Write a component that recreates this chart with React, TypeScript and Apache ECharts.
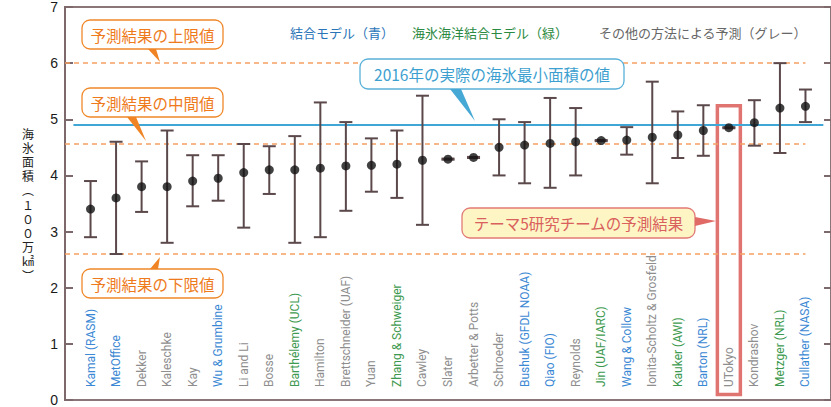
import React, { useEffect, useRef } from "react";
import * as echarts from "echarts";

const names = [
  "Kamal (RASM)", "MetOffice", "Dekker", "Kaleschke", "Kay", "Wu & Grumbine", "Li and Li", "Bosse",
  "Barthélemy (UCL)", "Hamilton", "Brettschneider (UAF)", "Yuan", "Zhang & Schweiger", "Cawley",
  "Slater", "Arbetter & Potts", "Schroeder", "Bushuk (GFDL NOAA)", "Qiao (FIO)", "Reynolds",
  "Jin (UAF/IARC)", "Wang & Collow", "Ionita-Scholtz & Grosfeld", "Kauker (AWI)", "Barton (NRL)",
  "UTokyo", "Kondrashov", "Metzger (NRL)", "Cullather (NASA)",
];
// B = 結合モデル, G = 海氷海洋結合モデル, O = その他
const groups = ["B","B","O","O","O","B","O","O","G","O","O","O","G","O","O","O","O","B","B","O","G","B","O","G","B","O","O","G","B"];
const values = [3.4, 3.6, 3.8, 3.8, 3.9, 3.95, 4.05, 4.1, 4.1, 4.13, 4.17, 4.18, 4.2, 4.27, 4.29, 4.32, 4.5, 4.54, 4.57, 4.6, 4.62, 4.63, 4.68, 4.72, 4.8, 4.85, 4.94, 5.2, 5.23];
const lows = [2.9, 2.6, 3.35, 2.8, 3.45, 3.55, 3.07, 3.67, 2.8, 2.9, 3.37, 3.71, 3.6, 3.12, 4.28, 4.31, 4.0, 3.86, 3.78, 4.0, 4.61, 4.37, 3.86, 4.31, 4.35, 4.84, 4.53, 4.4, 4.95];
const highs = [3.9, 4.6, 4.25, 4.8, 4.36, 4.36, 4.56, 4.52, 4.7, 5.3, 4.95, 4.66, 4.8, 5.42, 4.3, 4.33, 5.0, 4.95, 5.38, 5.2, 4.63, 4.86, 5.67, 5.14, 5.25, 4.86, 5.34, 6.0, 5.53];
const yTicks = [0, 1, 2, 3, 4, 5, 6, 7];
const yAxisTitleChars = ["海", "氷", "面", "積", "︵", "１", "０", "０", "万", "㎢", "︶"];
const upperLimit = 6.0;
const medianValue = 4.57;
const lowerLimit = 2.6;
const actual2016 = 4.91;
const highlightName = "UTokyo";

const groupColors: Record<string, string> = { B: "#3b88d4", G: "#3e9a50", O: "#8e8e8e" };
const JP = "'Noto Sans CJK JP', 'Noto Sans', sans-serif";

export default function App() {
  const ref = useRef<HTMLDivElement>(null);
  useEffect(() => {
    if (!ref.current) return;
    const chart = echarts.init(ref.current, null, { renderer: "svg" });
    const cats = ["", ...names, ""];
    const pts = values.map((v, i) => [i + 1, v]);
    const bars = values.map((v, i) => [i + 1, lows[i], highs[i]]);
    const hi = names.indexOf(highlightName) + 1;

    const orangeBox = (y: number, text: string, pointer: number[][]) => [
      { type: "rect", shape: { x: 82, y, width: 141, height: 29, r: 8 }, style: { fill: "#fff", stroke: "#f0882a", lineWidth: 1.3 }, z: 10 },
      { type: "polygon", shape: { points: pointer }, style: { fill: "#f08424" }, z: 11 },
      { type: "text", x: 152.5, y: y + 14.5, style: { text, fill: "#ee7a1c", font: `15.5px ${JP}`, align: "center", verticalAlign: "middle" }, z: 12 },
    ];

    const titleTexts = yAxisTitleChars.map((ch, i) => ({
      type: "text", x: 28, y: 133 + i * 14.2,
      style: { text: ch, fill: "#222", font: `12px ${JP}`, align: "center", verticalAlign: "middle" },
    }));

    chart.setOption({
      animation: false,
      grid: { left: 65, top: 7, width: 768, height: 395, show: true, borderColor: "#8a7678", borderWidth: 2, backgroundColor: "transparent" },
      xAxis: [
        {
          type: "category", data: cats, boundaryGap: false,
          axisLine: { show: false }, axisTick: { show: false }, splitLine: { show: false },
          axisLabel: {
            inside: true, rotate: 90, interval: 0, margin: 13, fontSize: 12, fontFamily: "Roboto",
            color: (val: string, idx: number) => (idx >= 1 && idx <= names.length ? groupColors[groups[idx - 1]] : "#888"),
          },
        },
        { type: "value", min: 0, max: 30, show: false },
      ],
      yAxis: [
        {
          type: "value", min: yTicks[0], max: yTicks[yTicks.length - 1], interval: 1,
          axisLine: { show: true, lineStyle: { color: "#7d686b", width: 2 } },
          axisTick: { show: true, inside: true, length: 8, lineStyle: { color: "#7d686b", width: 2 } },
          axisLabel: { fontSize: 14, color: "#1a1a1a", margin: 7, fontFamily: "'Liberation Sans', Arial" },
          splitLine: { show: false },
        },
        {
          type: "value", position: "right", min: yTicks[0], max: yTicks[yTicks.length - 1], interval: 1,
          axisLine: { show: false },
          axisTick: { show: true, inside: true, length: 7, lineStyle: { color: "#7d686b", width: 2 } },
          axisLabel: { show: false }, splitLine: { show: false },
        },
      ],
      series: [
        {
          type: "custom", xAxisIndex: 1, yAxisIndex: 0, data: bars, z: 3,
          renderItem: (params: any, api: any) => {
            const x = api.value(0);
            const top = api.coord([x, api.value(2)]);
            const bot = api.coord([x, api.value(1)]);
            const w = 6.5;
            const st = { stroke: "#5b484b", lineWidth: 2 };
            return {
              type: "group",
              children: [
                { type: "line", shape: { x1: top[0], y1: top[1], x2: bot[0], y2: bot[1] }, style: st },
                { type: "line", shape: { x1: top[0] - w, y1: top[1], x2: top[0] + w, y2: top[1] }, style: st },
                { type: "line", shape: { x1: bot[0] - w, y1: bot[1], x2: bot[0] + w, y2: bot[1] }, style: st },
              ],
            };
          },
        },
        {
          type: "scatter", xAxisIndex: 1, yAxisIndex: 0, data: pts, symbolSize: 9, z: 5,
          itemStyle: { color: "#111" },
          markLine: {
            silent: true, symbol: "none", label: { show: false }, z: 1,
            data: [
              [{ coord: [0, upperLimit], lineStyle: { color: "#f5a062", type: [5, 4], width: 1.6 } }, { coord: [29, upperLimit] }],
              [{ coord: [0, medianValue], lineStyle: { color: "#f5a062", type: [5, 4], width: 1.6 } }, { coord: [29, medianValue] }],
              [{ coord: [0, lowerLimit], lineStyle: { color: "#f5a062", type: [5, 4], width: 1.6 } }, { coord: [29, lowerLimit] }],
              [{ coord: [0.33, actual2016], lineStyle: { color: "#3fa6d6", type: "solid", width: 1.8 } }, { coord: [29.7, actual2016] }],
            ],
          },
          markArea: {
            silent: true,
            itemStyle: { color: "rgba(0,0,0,0)", borderColor: "#e07470", borderWidth: 3.5 },
            data: [[{ coord: [hi - 0.45, 5.24] }, { coord: [hi + 0.45, 0.1] }]],
          },
        },
      ],
      graphic: [
        ...titleTexts,
        { type: "text", x: 290, y: 32, style: { text: "結合モデル（青）", fill: "#2a74b8", font: `13px ${JP}`, verticalAlign: "middle" } },
        { type: "text", x: 412, y: 32, style: { text: "海氷海洋結合モデル（緑）", fill: "#2b8a42", font: `13px ${JP}`, verticalAlign: "middle" } },
        { type: "text", x: 599, y: 32, style: { text: "その他の方法による予測（グレー）", fill: "#666", font: `13px ${JP}`, verticalAlign: "middle" } },
        ...orangeBox(20, "予測結果の上限値", [[148, 49], [156, 49], [160, 62]]),
        ...orangeBox(88, "予測結果の中間値", [[127, 117], [136, 117], [146, 141]]),
        ...orangeBox(269, "予測結果の下限値", [[150, 269], [158, 269], [160, 257]]),
        { type: "rect", shape: { x: 360, y: 59, width: 264, height: 30, r: 8 }, style: { fill: "#fff", stroke: "#59b0d8", lineWidth: 1.3 }, z: 10 },
        { type: "polygon", shape: { points: [[450, 89], [461, 89], [475, 121]] }, style: { fill: "#46a8d4" }, z: 11 },
        { type: "text", x: 492, y: 74, style: { text: "2016年の実際の海氷最小面積の値", fill: "#3d9fcf", font: `15.5px ${JP}`, align: "center", verticalAlign: "middle" }, z: 12 },
        { type: "rect", shape: { x: 462, y: 208, width: 233, height: 30, r: 8 }, style: { fill: "#fdf5c4", stroke: "#e27a76", lineWidth: 1.3 }, z: 10 },
        { type: "polygon", shape: { points: [[695, 217], [695, 226], [716, 221]] }, style: { fill: "#e06a66" }, z: 11 },
        { type: "text", x: 578.5, y: 223, style: { text: "テーマ5研究チームの予測結果", fill: "#d9605c", font: `15.5px ${JP}`, align: "center", verticalAlign: "middle" }, z: 12 },
      ],
    });
    return () => chart.dispose();
  }, []);
  return <div ref={ref} style={{ position: "fixed", left: 0, top: 0, width: 831, height: 407, background: "#fff" }} />;
}
